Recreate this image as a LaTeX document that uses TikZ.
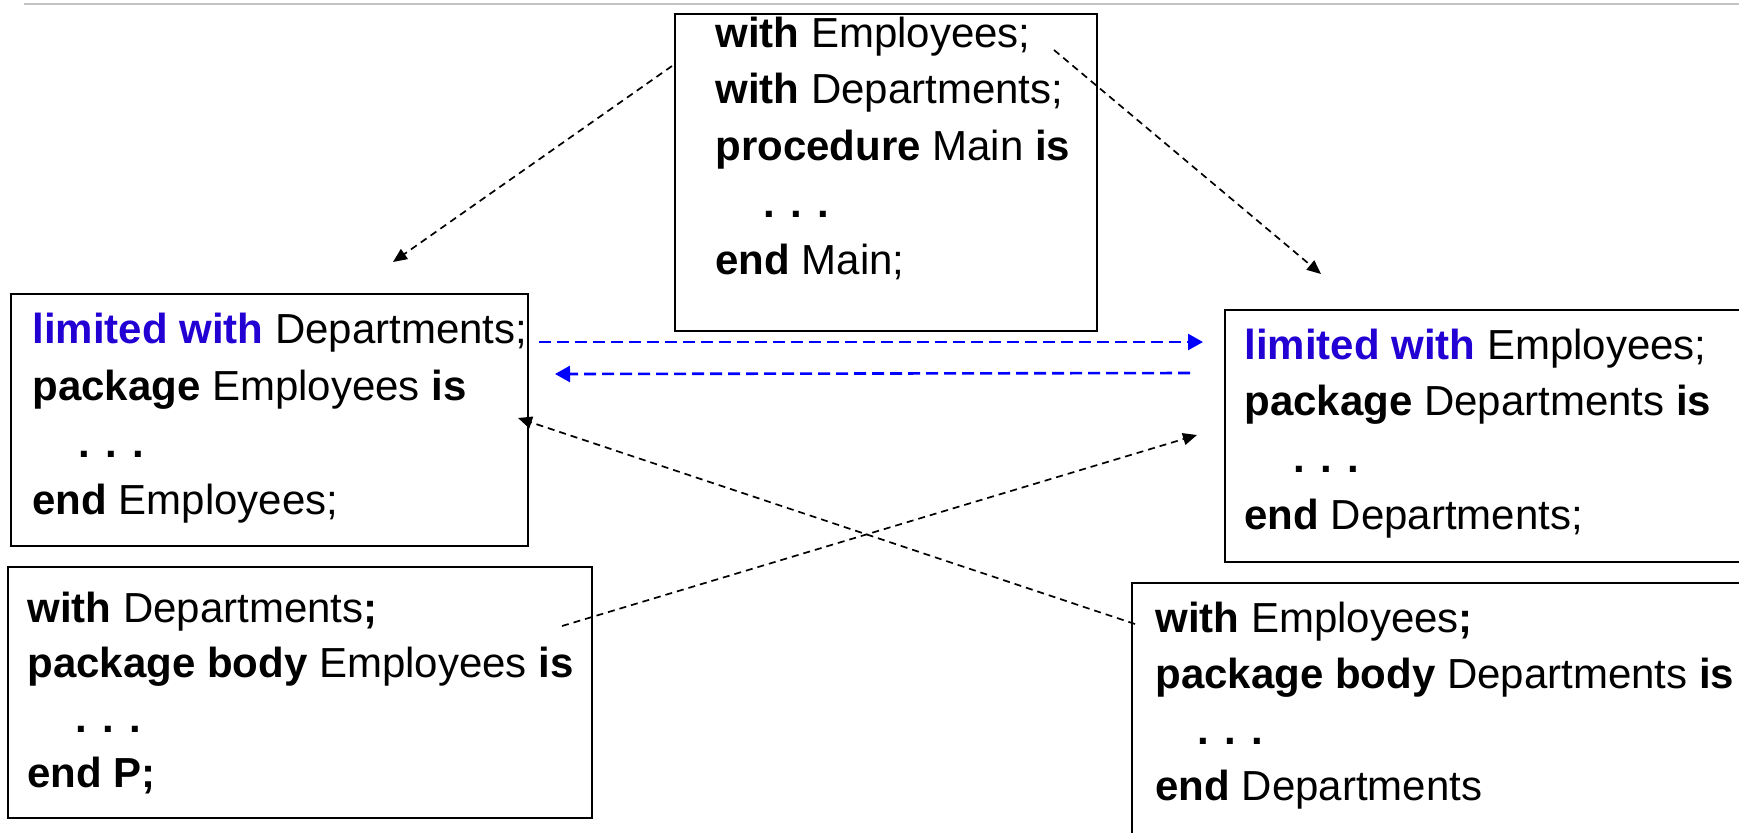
\documentclass[tikz,border=0pt]{standalone}
\usepackage{fontspec}
\setmainfont{Liberation Sans}
\usetikzlibrary{arrows.meta}
\definecolor{kwblue}{RGB}{34,0,212}
\definecolor{arrowblue}{RGB}{0,0,255}
\definecolor{rulegray}{RGB}{196,196,196}
\begin{document}
\begin{tikzpicture}[x=0.5pt,y=-0.5pt,
  codebox/.style={draw=black, line width=1pt, inner sep=0pt, anchor=north west},
  codeline/.style={inner sep=0pt, anchor=base west, font=\fontsize{21pt}{25pt}\selectfont},
  dep/.style={draw=black, line width=0.85pt, dash pattern=on 3.5pt off 2.5pt, -{Triangle[length=7pt,width=6pt]}},
  lim/.style={draw=arrowblue, line width=1.3pt, dash pattern=on 6pt off 3pt, -{Triangle[length=7.5pt,width=8pt]}}]
\useasboundingbox (0,0) rectangle (1739,832);
% top rule
\coordinate (ruleL) at (24,4);
\coordinate (ruleR) at (1739,4);
\draw[rulegray, line width=1pt] (ruleL) -- (ruleR);
% boxes
\node[codebox, minimum width=211pt, minimum height=158.5pt] (mainbox) at (674,13) {};
\node[codebox, minimum width=258.5pt, minimum height=126pt] (empspec) at (10,293) {};
\node[codebox, minimum width=268pt, minimum height=126pt] (depspec) at (1224,309) {};
\node[codebox, minimum width=292pt, minimum height=125.5pt] (empbody) at (7,566) {};
\node[codebox, minimum width=314.5pt, minimum height=139pt] (depbody) at (1131,582) {};
% main text
\node[codeline] (m1) at (715,47) {\textbf{with} Employees;};
\node[codeline] (m2) at (715,103) {\textbf{with} Departments;};
\node[codeline] (m3) at (715,160) {\textbf{procedure} Main \textbf{is}};
\node[codeline] (m4) at (763,217) {\textbf{. . .}};
\node[codeline] (m5) at (715,274) {\textbf{end} Main;};
% Employees spec
\node[codeline] (e1) at (32,343) {{\color{kwblue}\textbf{limited with}} Departments;};
\node[codeline] (e2) at (32,400) {\textbf{package} Employees \textbf{is}};
\node[codeline] (e3) at (78,457) {\textbf{. . .}};
\node[codeline] (e4) at (32,514) {\textbf{end} Employees;};
% Departments spec
\node[codeline] (d1) at (1244,359) {{\color{kwblue}\textbf{limited with}} Employees;};
\node[codeline] (d2) at (1244,415) {\textbf{package} Departments \textbf{is}};
\node[codeline] (d3) at (1293,472) {\textbf{. . .}};
\node[codeline] (d4) at (1244,529) {\textbf{end} Departments;};
% Employees body
\node[codeline] (eb1) at (27,622) {\textbf{with} Departments\textbf{;}};
\node[codeline] (eb2) at (27,677) {\textbf{package body} Employees \textbf{is}};
\node[codeline] (eb3) at (75,732) {\textbf{. . .}};
\node[codeline] (eb4) at (27,787) {\textbf{end P;}};
% Departments body
\node[codeline] (db1) at (1155,632) {\textbf{with} Employees\textbf{;}};
\node[codeline] (db2) at (1155,688) {\textbf{package body} Departments \textbf{is}};
\node[codeline] (db3) at (1197,744) {\textbf{. . .}};
\node[codeline] (db4) at (1155,800) {\textbf{end} Departments};
% connector end points
\coordinate (mainL) at (672,66);
\coordinate (empTip) at (393,262);
\coordinate (mainR) at (1054,50);
\coordinate (depTip) at (1321,274);
\coordinate (limES) at (539,342);
\coordinate (limEE) at (1203,342);
\coordinate (limDS) at (1190,373);
\coordinate (limDE) at (555,374);
\coordinate (dbS) at (1135,624);
\coordinate (empSide) at (518,418);
\coordinate (ebS) at (562,626);
\coordinate (depSide) at (1197,435);
% connectors
\draw[dep] (mainL) -- (empTip);
\draw[dep] (mainR) -- (depTip);
\draw[lim] (limES) -- (limEE);
\draw[lim] (limDS) -- (limDE);
\draw[dep] (dbS) -- (empSide);
\draw[dep] (ebS) -- (depSide);
\end{tikzpicture}
\end{document}
